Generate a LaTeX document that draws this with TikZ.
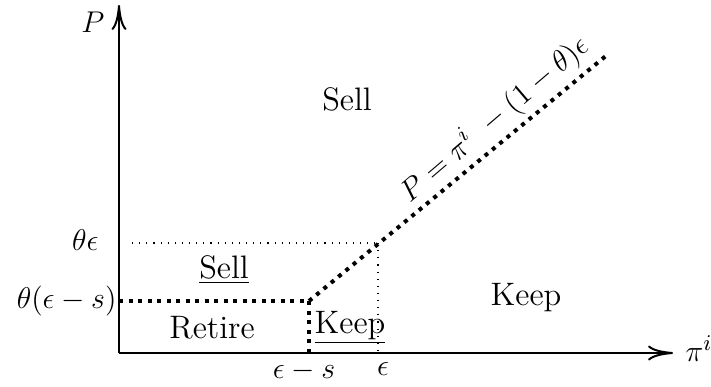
\documentclass[tikz,border=0pt]{standalone}
\usetikzlibrary{arrows.meta}
\begin{document}
\begin{tikzpicture}[x=0.4pt,y=-0.4pt,
  every node/.style={font=\fontsize{13}{15}\selectfont,inner sep=0pt},
  axis/.style={line width=0.8pt,-{To[length=10pt,width=6pt]}},
  thickdot/.style={line width=1.6pt,dash pattern=on 1.6pt off 2.2pt},
  thindot/.style={line width=0.45pt,dash pattern=on 0.45pt off 2.4pt},
  txt/.style={anchor=base}]
\useasboundingbox (0,0) rectangle (711,386);
\coordinate (O) at (119,353);
\coordinate (Ytop) at (119,5);
\coordinate (Xend) at (673,353);
\coordinate (A) at (309,301);
\coordinate (B) at (378,243);
\coordinate (C) at (607,55);
\coordinate (Ylow) at (119,301);
\coordinate (Yhigh) at (132,243);
\coordinate (Xa) at (309,353);
\coordinate (Xb) at (378,353);
\draw[axis] (O) -- (Ytop);
\draw[axis] (O) -- (Xend);
\draw[thindot] (Yhigh) -- (B);
\draw[thindot] (B) -- (Xb);
\draw[thickdot] (Ylow) -- (A);
\draw[thickdot] (A) -- (Xa);
\draw[thickdot] (A) -- (C);
\node[txt,rotate=40.5] (eq) at (500,126) {$P=\pi^{i}\ -(1-\theta)\epsilon$};
\node[txt] (lP) at (93,33) {$P$};
\node[anchor=base west] (lpi) at (685,361) {$\pi^{i}$};
\node[anchor=base east] (lte) at (99,250) {$\theta\epsilon$};
\node[anchor=base east] (ltes) at (117,308) {$\theta(\epsilon-s)$};
\node[txt] (les) at (304,378) {$\epsilon-s$};
\node[txt] (le) at (383,375) {$\epsilon$};
\node[txt] (sell) at (347,110) {Sell};
\node[txt] (sellu) at (224,278) {\underline{Sell}};
\node[txt] (keep) at (526,305) {Keep};
\node[txt] (retire) at (212,338) {Retire};
\node[txt] (keepu) at (350,333) {\underline{Keep}};
\end{tikzpicture}
\end{document}
